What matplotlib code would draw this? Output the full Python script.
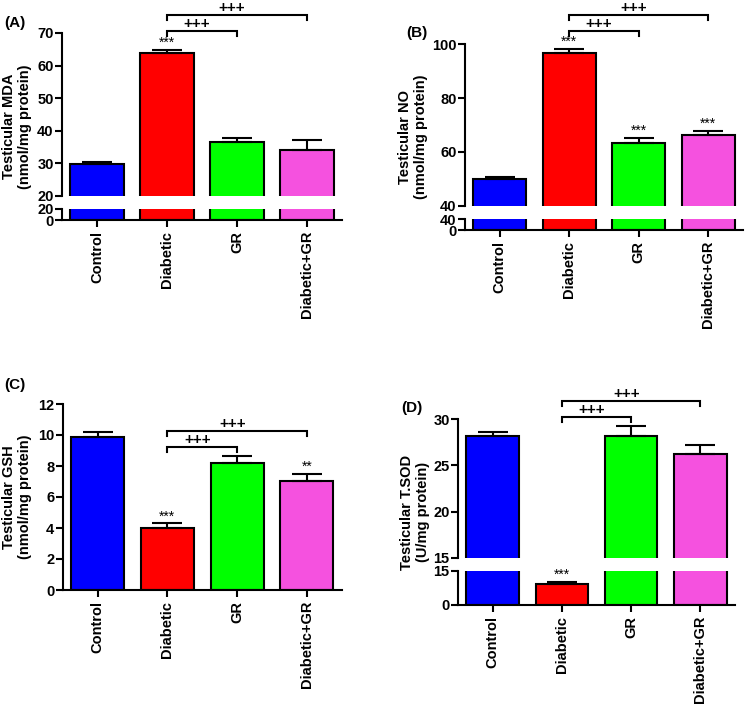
import matplotlib
matplotlib.use("Agg")
import matplotlib.pyplot as plt
import numpy as np

plt.rcParams['font.family'] = ['Liberation Sans', 'DejaVu Sans']
plt.rcParams['font.weight'] = 'bold'

groups = ["Control", "Diabetic", "GR", "Diabetic+GR"]
colors = ["#0000FF", "#FF0000", "#00FF00", "#F551DF"]

mda_mean = [29.8, 64.0, 36.5, 34.0]
mda_err = [0.5, 0.8, 1.2, 3.1]
mda_stars = ["", "***", "", ""]

no_mean = [50.0, 96.8, 63.4, 66.3]
no_err = [0.8, 1.4, 1.8, 1.5]
no_stars = ["", "***", "***", "***"]

gsh_mean = [9.85, 3.98, 8.17, 7.03]
gsh_err = [0.35, 0.32, 0.45, 0.48]
gsh_stars = ["", "***", "", "**"]

sod_mean = [28.2, 9.2, 28.2, 26.2]
sod_err = [0.45, 0.9, 1.05, 1.0]
sod_stars = ["", "***", "", ""]

comparisons = ["+++", "+++"]  # Diabetic vs GR, Diabetic vs Diabetic+GR

W, H = 745, 705
fig = plt.figure(figsize=(W / 100, H / 100), dpi=100)

LW = 1.5


def add_ax(l, t, r, b):
    return fig.add_axes([l / W, (H - b) / H, (r - l) / W, (b - t) / H])


def style(ax, ylim, yticks, lower):
    ax.set_xlim(-0.5, 3.5)
    ax.set_ylim(*ylim)
    ax.set_yticks(yticks)
    ax.set_yticklabels([str(v) for v in yticks], fontweight='bold', fontsize=10.5)
    ax.spines['top'].set_visible(False)
    ax.spines['right'].set_visible(False)
    ax.spines['left'].set_linewidth(LW)
    ax.spines['bottom'].set_linewidth(LW)
    ax.tick_params(axis='y', length=5, width=LW, pad=1)
    ax.patch.set_alpha(0)
    if lower:
        ax.set_xticks(range(len(groups)))
        ax.set_xticklabels(groups, rotation=90, fontsize=10.5, fontweight='bold')
        ax.tick_params(axis='x', length=5, width=LW, pad=3)
    else:
        ax.spines['bottom'].set_visible(False)
        ax.set_xticks([])


def draw_bars(ax, means, errs, stars):
    x = np.arange(len(means))
    ax.bar(x, means, width=0.76, color=colors, edgecolor='black', linewidth=LW)
    ax.errorbar(x, means, yerr=[np.zeros(len(means)), errs], fmt='none',
                ecolor='black', elinewidth=LW, capsize=11, capthick=LW)
    lo, hi = ax.get_ylim()
    for i, s in enumerate(stars):
        top = means[i] + errs[i]
        if s and lo <= top <= hi:
            ax.annotate(s, (i, top), xytext=(0, 0), textcoords='offset points',
                        ha='center', va='bottom', fontsize=10, fontweight='normal',
                        annotation_clip=False)


def bracket(ax, x0, x1, y, leg, label):
    ax.plot([x0, x0, x1, x1], [y - leg, y, y, y - leg], color='black',
            lw=LW, clip_on=False, solid_joinstyle='miter')
    ax.text((x0 + x1) / 2 - 0.07, y, label, ha='center', va='bottom',
            fontsize=11, fontweight='bold', clip_on=False)


def panel(box_up, box_lo, ylim_up, yticks_up, ylim_lo, yticks_lo,
          means, errs, stars, brackets, leg, label, lab_pos, ylabel, ylab_x):
    axu = add_ax(*box_up)
    style(axu, ylim_up, yticks_up, lower=(box_lo is None))
    draw_bars(axu, means, errs, stars)
    if box_lo is not None:
        axl = add_ax(*box_lo)
        style(axl, ylim_lo, yticks_lo, lower=True)
        draw_bars(axl, means, errs, stars)
        bottom = box_lo[3]
    else:
        bottom = box_up[3]
    for (x1, y), txt in zip(brackets, comparisons):
        bracket(axu, 1, x1, y, leg, txt)
    fig.text(lab_pos[0] / W, 1 - lab_pos[1] / H, label, fontsize=11,
             fontweight='bold', ha='left', va='center')
    yc = (box_up[1] + bottom) / 2
    fig.text(ylab_x / W, 1 - yc / H, ylabel, rotation=90, ha='center',
             va='center', fontsize=10.5, fontweight='bold',
             multialignment='center', linespacing=1.1)


panel((62, 33, 342, 196), (62, 209, 342, 220), (20, 70), [20, 30, 40, 50, 60, 70],
      (0, 20), [0, 20], mda_mean, mda_err, mda_stars,
      [(2, 70.7), (3, 75.5)], 1.6, "(A)", (4, 23),
      "Testicular MDA\n(nmol/mg protein)", 17)

panel((465, 44.3, 743, 205.7), (465, 219.3, 743, 230), (40, 100), [40, 60, 80, 100],
      (0, 40), [0, 40], no_mean, no_err, no_stars,
      [(2, 105.0), (3, 110.9)], 2.0, "(B)", (406, 33),
      "Testicular NO\n(nmol/mg protein)", 413)

panel((62.7, 404, 341.7, 590), None, (0, 12), [0, 2, 4, 6, 8, 10, 12],
      None, None, gsh_mean, gsh_err, gsh_stars,
      [(2, 9.25), (3, 10.26)], 0.35, "(C)", (4, 385),
      "Testicular GSH\n(nmol/mg protein)", 17)

panel((458, 419.3, 735, 557.7), (458, 570.7, 735, 605), (15, 30), [15, 20, 25, 30],
      (0, 15), [0, 15], sod_mean, sod_err, sod_stars,
      [(2, 30.3), (3, 31.95)], 0.55, "(D)", (401, 408),
      "Testicular T.SOD\n(U/mg protein)", 415)

fig.savefig("out.png", dpi=100)
